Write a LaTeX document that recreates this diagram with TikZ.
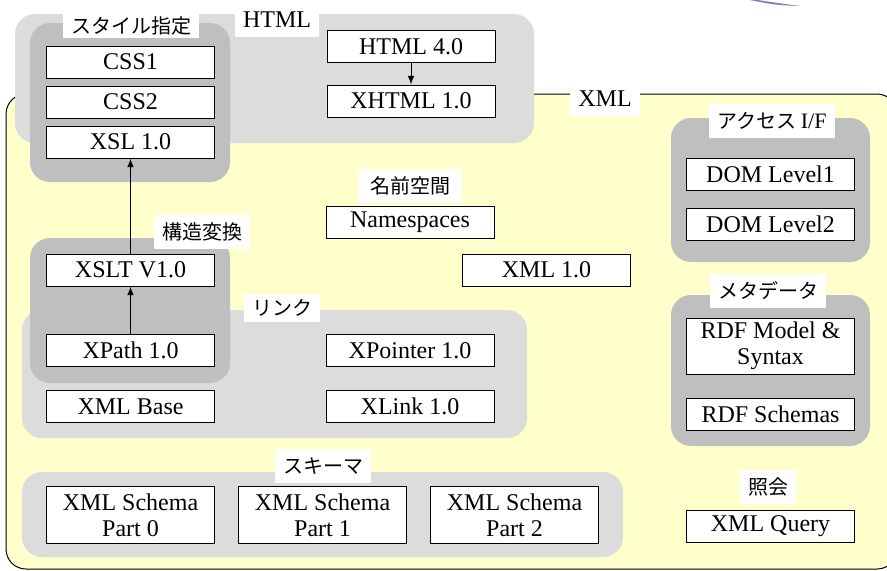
\documentclass[tikz,border=0pt]{standalone}
\usepackage{fontspec}
\setmainfont{Liberation Serif}
\newfontfamily\jp{Noto Sans CJK JP}
\definecolor{xmlbg}{HTML}{FFFFCC}
\definecolor{grplight}{HTML}{DCDCDC}
\definecolor{grpdark}{HTML}{BFBFBF}
\definecolor{swoosh}{HTML}{7580C0}
\tikzset{
  spec/.style={draw, fill=white, line width=.5pt, minimum width=84pt, minimum height=16pt,
    inner sep=1pt, align=center, font=\fontsize{12}{13}\selectfont},
  tag/.style={fill=white, inner xsep=4pt, inner ysep=0pt, minimum height=17pt,
    font=\jp\fontsize{10}{12}\selectfont},
  rmtag/.style={tag, font=\fontsize{12}{13}\selectfont},
  area/.style={rounded corners=10pt},
}
\begin{document}
\begin{tikzpicture}[x=.5pt, y=-.5pt, line width=.5pt]
    \useasboundingbox (0,0) rectangle (887,570);
    \clip (0,0) rectangle (887,570);
    \fill[swoosh] (745,-1) -- (752,-1) .. controls (770,2) .. (800,6) .. controls (775,5) .. (745,-1) -- cycle;

    % XML and HTML
    \draw[area, fill=xmlbg] (6,94) rectangle (897,569);
    \fill[area, grplight] (15,14) rectangle (534,143);
    \node[rmtag] (htmltag) at (277,20) {HTML};
    \node[rmtag] (xmltag) at (605,99) {XML};

    \node[spec] (html4) at (411,46.5) {HTML 4.0};
    \node[spec] (xhtml) at (411,101) {XHTML 1.0};
    \draw[-latex] (html4) -- (xhtml);

    % style sheets
    \fill[area, grpdark] (30,23) rectangle (230,182);
    \node[tag, minimum height=12pt] (styletag) at (131,26) {スタイル指定};
    \foreach \k [count=\x] in {62,102}
        \node[spec] (css\x) at (130.5,\k) {CSS\x};
    \node[spec] (xsl) at (130.5,142) {XSL 1.0};

    % namespaces
    \node[tag, inner xsep=6pt] (nstag) at (410,186) {名前空間};
    \node[spec] (ns) at (410,222) {Namespaces};
    \node[spec] (xml) at (546.5,270) {XML 1.0};

    % links and transformations
    \fill[area, grplight] (22,310) rectangle (527,438);
    \fill[area, grpdark] (30,238) rectangle (230,383);
    \node[tag] (xslttag) at (202,232) {構造変換};
    \node[tag, minimum height=14pt] (linktag) at (282,308) {リンク};
    \node[spec] (xslt) at (130.5,270) {XSLT V1.0};
    \node[spec] (xpath) at (130.5,350.5) {XPath 1.0};
    \node[spec] (xptr) at (410,350.5) {XPointer 1.0};
    \node[spec] (xbase) at (130.5,406.5) {XML Base};
    \node[spec] (xlink) at (410,406.5) {XLink 1.0};
    \draw[-latex] (xpath) -- (xslt);
    \draw[-latex] (xslt) -- (xsl);

    % access
    \fill[area, grpdark] (671,118) rectangle (870,262);
    \node[tag] (domtag) at (772,121) {アクセス {\rmfamily\fontsize{11}{12}\selectfont I/F}};
    \foreach \k [count=\x] in {174.5,224}
        \node[spec] (dom\x) at (770.5,\k) {DOM Level\x};

    % metadata
    \fill[area, grpdark] (671,295) rectangle (870,446);
    \node[tag] (rdftag) at (768,291) {メタデータ};
    \node[spec, minimum height=28pt] (rdfm) at (770.5,346) {RDF Model \&\\Syntax};
    \node[spec] (rdfs) at (770.5,414.5) {RDF Schemas};

    % query
    \node[tag] (qtag) at (768,487) {照会};
    \node[spec] (query) at (770.5,526.5) {XML Query};

    % schema
    \fill[area, grplight] (22,472) rectangle (623,557);
    \node[tag] (schtag) at (323,466) {スキーマ};
    \foreach \k [count=\x from 0] in {130.5,322.5,514.5}
        \node[spec, minimum height=28.5pt] (sch\x) at (\k,515) {XML Schema\\Part \x};
\end{tikzpicture}
\end{document}
